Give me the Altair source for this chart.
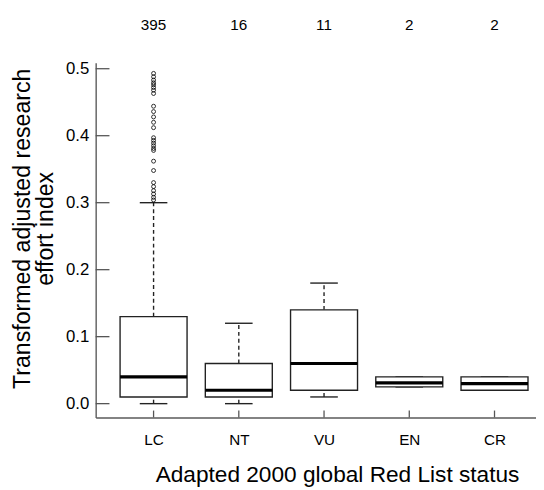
import altair as alt
import pandas as pd

# ---- data ----
categories = ["LC", "NT", "VU", "EN", "CR"]
counts = [395, 16, 11, 2, 2]
whisker_low = [0.0, 0.0, 0.01, 0.025, 0.02]
q1 = [0.01, 0.01, 0.02, 0.025, 0.02]
median = [0.04, 0.02, 0.06, 0.031, 0.03]
q3 = [0.13, 0.06, 0.14, 0.04, 0.04]
whisker_high = [0.30, 0.12, 0.18, 0.04, 0.04]
lc_outliers = [0.493, 0.488, 0.483, 0.479, 0.476, 0.472, 0.468, 0.463,
               0.444, 0.436, 0.428, 0.420, 0.412,
               0.397, 0.393, 0.389, 0.385, 0.381, 0.378,
               0.362, 0.348,
               0.330, 0.324, 0.318, 0.313, 0.308, 0.304]
y_ticks = [0.0, 0.1, 0.2, 0.3, 0.4, 0.5]

positions = list(range(1, len(categories) + 1))
boxes = pd.DataFrame({"pos": positions, "cat": categories, "n": counts,
                      "wlo": whisker_low, "q1": q1, "med": median,
                      "q3": q3, "whi": whisker_high})
outl = pd.DataFrame({"pos": [1] * len(lc_outliers), "v": lc_outliers})
yt = pd.DataFrame({"v": y_ticks})

FONT = "Liberation Sans"
label_expr = "[" + ",".join(["''"] + [f"'{c}'" for c in categories]) + "][datum.value]"

xscale = alt.Scale(domain=[0.3785, 5.429], nice=False, zero=False)
xaxis = alt.Axis(values=positions, labelExpr=label_expr, title="Adapted 2000 global Red List status",
                 labelFontSize=15.5, labelPadding=15, labelBaseline="top",
                 titleFontSize=23, titleX=245, titleY=65.5, titleBaseline="alphabetic",
                 titleAlign="center")
yscale = alt.Scale(domain=[-0.0206, 0.5088], nice=False, zero=False)
yaxis = alt.Axis(values=y_ticks, format=".1f",
                 title=["Transformed adjusted research", "effort index"],
                 labelFontSize=17, labelPadding=7,
                 titleFontSize=23.5, titleLineHeight=23, titleX=-67, titleY=168,
                 titleAngle=270, titleAlign="center", titleBaseline="alphabetic")


def X():
    return alt.X("pos:Q", scale=xscale, axis=xaxis)


def Y(f):
    return alt.Y(f"{f}:Q", scale=yscale, axis=yaxis)


base = alt.Chart(boxes)

upper_whisker = base.mark_rule(color="#222", strokeWidth=1.4, strokeDash=[4, 3]).encode(
    x=X(), y=Y("q3"), y2="whi")
lower_whisker = base.mark_rule(color="#222", strokeWidth=1.4, strokeDash=[4, 3]).encode(
    x=X(), y=Y("wlo"), y2="q1")
cap_hi = base.mark_tick(orient="horizontal", size=28, thickness=1.4, color="#222", opacity=1).encode(
    x=X(), y=Y("whi"))
cap_lo = base.mark_tick(orient="horizontal", size=28, thickness=1.4, color="#222", opacity=1).encode(
    x=X(), y=Y("wlo"))
box = base.mark_bar(size=68, fill="white", stroke="#222", strokeWidth=1.4).encode(
    x=X(), y=Y("q1"), y2="q3")
med = base.mark_tick(orient="horizontal", size=68, thickness=3.2, color="black", opacity=1).encode(
    x=X(), y=Y("med"))
pts = alt.Chart(outl).mark_point(shape="circle", filled=False, size=16, strokeWidth=0.8,
                                 color="black", opacity=1).encode(x=X(), y=Y("v"))
ytick_marks = alt.Chart(yt).mark_rule(color="#555", strokeWidth=1.3).encode(
    x=alt.value(0), x2=alt.value(14), y=Y("v"))
xtick_marks = base.mark_rule(color="#555", strokeWidth=1.3).encode(
    x=X(), y=alt.value(353), y2=alt.value(360))
count_text = base.mark_text(fontSize=15.5, font=FONT, color="black", baseline="alphabetic").encode(
    x=X(), y=alt.value(-33), text="n:Q")

chart = alt.layer(upper_whisker, lower_whisker, cap_hi, cap_lo, box, med, pts,
                  ytick_marks, xtick_marks, count_text).properties(
    width=447, height=360,
    autosize=alt.AutoSizeParams(type="none"),
    padding={"left": 89, "top": 52, "right": 0, "bottom": 70},
).configure_axis(
    grid=False, ticks=False, domainColor="#5a5a5a", domainWidth=1.4,
    labelFont=FONT, titleFont=FONT, labelColor="black", titleColor="black",
    titleFontWeight="normal",
).configure_view(stroke=None)

chart.save("out.html", embed_options={"renderer": "svg", "actions": False})
